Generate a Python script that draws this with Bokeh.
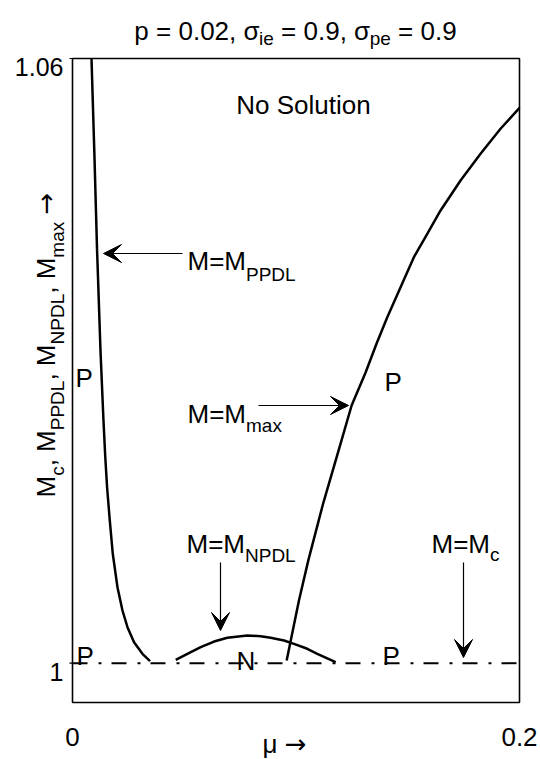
import math
from bokeh.plotting import figure
from bokeh.models import Range1d, Label, Arrow, VeeHead, BoxAnnotation
from bokeh.embed import file_html
from bokeh.resources import INLINE

# ---------------- data ----------------
x_ticks = [0, 0.2]
x_tick_labels = ["0", "0.2"]
y_ticks = [1, 1.06]
y_tick_labels = ["1", "1.06"]

mu_ppdl = [0.00850, 0.00975, 0.01100, 0.01252, 0.01386, 0.01458, 0.01547, 0.01668,
           0.01802, 0.02012, 0.02236, 0.02459, 0.02754, 0.03130, 0.03470]
M_ppdl = [1.06000, 1.05086, 1.04094, 1.03102, 1.02408, 1.02078, 1.01746, 1.01416,
          1.01086, 1.00754, 1.00523, 1.00357, 1.00208, 1.00093, 1.00020]

mu_npdl = [0.04619, 0.05141, 0.05737, 0.06333, 0.06929, 0.07823, 0.08419,
           0.08866, 0.09463, 0.09910, 0.10506, 0.10953, 0.11400, 0.11773]
M_npdl = [1.00033, 1.00093, 1.00159, 1.00215, 1.00252, 1.00275, 1.00268,
          1.00252, 1.00225, 1.00192, 1.00143, 1.00093, 1.00047, 1.00010]

mu_max = [0.09582, 0.10132, 0.10548, 0.11191, 0.11907, 0.12488, 0.13114, 0.13606,
          0.14084, 0.14679, 0.15274, 0.15873, 0.16468, 0.17362, 0.18257, 0.19151, 0.20000]
M_max = [1.00027, 1.00622, 1.01018, 1.01565, 1.02111, 1.02557, 1.02884, 1.03172,
         1.03433, 1.03731, 1.04029, 1.04261, 1.04492, 1.04790, 1.05055, 1.05303, 1.05510]

mu_c = [0.0, 0.2]
M_c = [1.0, 1.0]

X_MIN, X_MAX = 0.0, 0.2
Y_MIN, Y_MAX = 0.9961, 1.06

# ---------------- layout (picture pixels) ----------------
W_FIG, H_FIG = 540, 759
FL, FR, FT, FB = 72, 519, 58, 702          # plot box in the picture
FONT = "Liberation Sans"
ARROW_FONT = "DejaVu Sans"
MAIN, SUB = 26, 19

def dx(px):
    return X_MIN + (px - FL) / (FR - FL) * (X_MAX - X_MIN)
def dy(py):
    return Y_MIN + (FB - py) / (FB - FT) * (Y_MAX - Y_MIN)
def sx(x):
    return FL + (x - X_MIN) / (X_MAX - X_MIN) * (FR - FL)
def sy(y):
    return FB - (y - Y_MIN) / (Y_MAX - Y_MIN) * (FB - FT)

p = figure(width=W_FIG, height=H_FIG, output_backend="svg", toolbar_location=None,
           x_range=Range1d(dx(0), dx(W_FIG)), y_range=Range1d(dy(H_FIG), dy(0)),
           x_axis_location=None, y_axis_location=None, min_border=0)
p.background_fill_color = "white"
p.border_fill_color = "white"
p.outline_line_color = None
p.grid.visible = False

# plot box
p.add_layout(BoxAnnotation(left=X_MIN, right=X_MAX, bottom=Y_MIN, top=Y_MAX,
                           fill_color=None, fill_alpha=0, line_color="black",
                           line_alpha=1.0, line_width=1.6))

# ---------------- curves ----------------
p.line(mu_c, M_c, line_color="black", line_width=2, line_dash="15 11 3 10")
p.line(mu_ppdl, M_ppdl, line_color="black", line_width=2.5)
p.line(mu_npdl, M_npdl, line_color="black", line_width=2.5)
p.line(mu_max, M_max, line_color="black", line_width=2.5)

# ---------------- text helpers ----------------
WID = {' ': .278, ',': .278, '.': .278, '=': .584, 'M': .833, 'N': .722, 'P': .667,
       'D': .722, 'L': .556, 'S': .667, 'a': .556, 'c': .5, 'e': .556, 'i': .222,
       'l': .222, 'm': .833, 'n': .556, 'o': .556, 'p': .556, 't': .278, 'u': .556,
       'x': .5, 'σ': .6, '→': .838, 'μ': .576}
def tw(s, size):
    return sum(WID.get(c, .556) for c in s) * size

def add_text(txt, px, py, size=MAIN, align="left", angle=0.0, font=FONT):
    p.add_layout(Label(x=dx(px), y=dy(py), text=txt, text_font=font,
                       text_font_size=f"{size}px", text_color="black",
                       text_align=align, text_baseline="alphabetic", angle=angle))

def rich(parts, px, py, off=13, angle=0.0, sub=SUB):
    pos = 0.0
    for txt, is_sub in parts:
        size = sub if is_sub else MAIN
        lead = len(txt) - len(txt.lstrip(" "))
        shown = txt.strip(" ")
        start = pos + lead * WID[' '] * size
        font = ARROW_FONT if shown == "→" else FONT
        if angle == 0.0:
            add_text(shown, px + start, py + (off if is_sub else 0), size, font=font)
        else:
            add_text(shown, px + (off if is_sub else 0), py - start, size,
                     angle=angle, font=font)
        pos += tw(txt, size)
    return pos

def rich_width(parts, sub=SUB):
    return sum(tw(t, sub if s else MAIN) for t, s in parts)

# ---------------- ticks ----------------
for t, lab in zip(y_ticks, y_tick_labels):
    p.segment(x0=[dx(FL - 3)], y0=[t], x1=[X_MIN], y1=[t], line_color="black", line_width=1.2)
    add_text(lab, FL - 9, sy(t) + 0.716 * 25 / 2, size=25, align="right")
for t, lab in zip(x_ticks, x_tick_labels):
    add_text(lab, sx(t), 727 + 0.716 * MAIN / 2, align="center")

# title
title_parts = [("p = 0.02, σ", 0), ("ie", 1), (" = 0.9, σ", 0), ("pe", 1), (" = 0.9", 0)]
rich(title_parts, 295 - rich_width(title_parts) / 2, 30, off=8)

# y label (rotated)
ylab = [("M", 0), ("c", 1), (", M", 0), ("PPDL", 1), (", M", 0), ("NPDL", 1),
        (", M", 0), ("max", 1), (" →", 0)]
rich(ylab, 45, 497, off=12, angle=math.pi / 2)

# x label
rich([("μ", 0), (" →", 0)], 262, 743)

# annotations
add_text("No Solution", 303, 104, align="center")
rich([("M=M", 0), ("PPDL", 1)], 187, 260, off=14)
rich([("M=M", 0), ("max", 1)], 187, 413, off=12)
rich([("M=M", 0), ("NPDL", 1)], 186, 543, off=12)
rich([("M=M", 0), ("c", 1)], 431, 543, off=11)
add_text("P", 75, 377)
add_text("P", 384, 381)
add_text("P", 76, 655)
add_text("N", 236, 660)
add_text("P", 382, 655)

def arrow(x0, y0, x1, y1):
    p.add_layout(Arrow(end=VeeHead(size=18, fill_color="black", line_color="black"),
                       x_start=dx(x0), y_start=dy(y0), x_end=dx(x1), y_end=dy(y1),
                       line_color="black", line_width=1.2))

arrow(182, 253, 103, 253)
arrow(258, 405, 348, 405)
arrow(220, 562, 220, 630)
arrow(463, 562, 463, 657)

open("out.html", "w").write(file_html(p, INLINE))
